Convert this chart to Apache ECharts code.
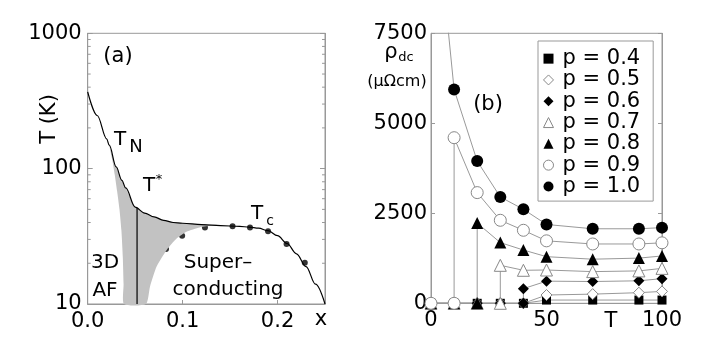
<!DOCTYPE html>
<html>
<head>
<meta charset="utf-8">
<script src="https://cdn.jsdelivr.net/npm/echarts@6/dist/echarts.min.js"></script>
<style>
  html, body { margin: 0; padding: 0; background: #fff; }
  #chart { width: 706px; height: 356px; }
</style>
</head>
<body>
<div id="chart"></div>
<script>
// ---- panel (a): T (log) against doping x ----
var curveX = [0, 0.01, 0.02, 0.0227, 0.03, 0.036, 0.04, 0.05, 0.06, 0.07, 0.08, 0.09, 0.1, 0.12, 0.14, 0.16, 0.17, 0.18, 0.19, 0.2, 0.21, 0.22, 0.23, 0.24, 0.25];
var curveT = [369, 247, 166, 149, 103, 82, 72, 52, 47, 44, 41.5, 40, 39.5, 38.6, 38, 37.4, 37, 36.3, 34.8, 32, 28, 23.5, 18.9, 14, 10];
var tcX = [0.0825, 0.0995, 0.1235, 0.1526, 0.171, 0.19, 0.2095, 0.2287];
var tcT = [25.5, 32, 36.8, 37.6, 36.8, 34.5, 27.7, 20.2];
// shaded region: left edge down, bottom, lower-right edge up, then back along T*
var grayX = [0.0227, 0.026, 0.0285, 0.031, 0.0335, 0.0355, 0.037, 0.0378, 0.0382, 0.0614, 0.0656, 0.0726, 0.0832, 0.0937, 0.104, 0.118, 0.131, 0.138, 0.12, 0.1, 0.09, 0.08, 0.07, 0.06, 0.05, 0.04, 0.036, 0.03, 0.026];
var grayT = [149, 115, 90, 68, 50, 35, 22, 14, 10, 10, 13.4, 18.9, 25.1, 30.5, 34.2, 36.8, 38.1, 38.4, 38.7, 39.5, 40, 41.5, 44, 47, 52, 72, 82, 103, 125];
var tStarX = [0.052, 0.052];
var tStarT = [10, 51.5];
var logMinor = [20, 30, 40, 50, 60, 70, 80, 90, 200, 300, 400, 500, 600, 700, 800, 900];

// ---- panel (b): rho_dc against T ----
var pNames = ['p = 0.4', 'p = 0.5', 'p = 0.6', 'p = 0.7', 'p = 0.8', 'p = 0.9', 'p = 1.0'];
var tP04 = [0, 10, 20, 30, 40, 50, 70, 90, 100];
var rhoP04 = [0, 0, 0, 0, 0, 90, 90, 90, 90];
var tP05 = [0, 10, 20, 30, 40, 50, 70, 90, 100];
var rhoP05 = [0, 0, 0, 0, 0, 230, 255, 295, 330];
var tP06 = [0, 10, 20, 30, 40, 40, 50, 70, 90, 100];
var rhoP06 = [0, 0, 0, 0, 0, 407, 615, 605, 625, 685];
var tP07 = [0, 10, 20, 30, 30, 40, 50, 70, 90, 100];
var rhoP07 = [0, 0, 0, 0, 1055, 917, 925, 880, 900, 970];
var tP08 = [0, 10, 20, 20, 30, 40, 50, 70, 90, 100];
var rhoP08 = [0, 0, 0, 2230, 1686, 1480, 1295, 1225, 1255, 1315];
var tP09 = [0, 10, 10, 20, 30, 40, 50, 70, 90, 100];
var rhoP09 = [0, 0, 4600, 3075, 2306, 2028, 1735, 1648, 1648, 1680];
var tP10 = [0, 10, 20, 30, 40, 50, 70, 90, 100];
var rhoP10 = [12400, 5940, 3950, 2953, 2611, 2190, 2070, 2070, 2102];

var FONT = 'DejaVu Sans';

function pairs(xs, ys) {
  return xs.map(function (x, i) { return [x, ys[i]]; });
}

var filled = { color: '#000', borderColor: '#000', borderWidth: 0 };
var open = { color: '#fff', borderColor: '#888', borderWidth: 1 };

function rhoSeries(name, ts, vals, symbol, size, style) {
  return {
    name: name,
    type: 'line',
    xAxisIndex: 1,
    yAxisIndex: 2,
    data: pairs(ts, vals),
    symbol: symbol,
    symbolSize: size,
    showAllSymbol: true,
    lineStyle: { color: '#999', width: 1 },
    itemStyle: style,
    z: 3
  };
}

function axisText(size) {
  return { fontFamily: FONT, fontSize: size, color: '#000' };
}

function plain(v) { return String(v); }

function label(text, x, y, size, extra) {
  var el = {
    type: 'text',
    x: x,
    y: y,
    style: {
      text: text,
      fontFamily: FONT,
      fontSize: size,
      fill: '#000',
      align: 'center',
      verticalAlign: 'middle'
    },
    z: 100
  };
  if (extra) {
    for (var k in extra) el[k] = extra[k];
  }
  return el;
}

var chart = echarts.init(document.getElementById('chart'));

var option = {
  animation: false,
  backgroundColor: '#fff',
  textStyle: { fontFamily: FONT },
  grid: [
    { left: 87.7, top: 33.3, width: 237.3, height: 270.7, show: true, borderColor: '#999', borderWidth: 1, outerBoundsMode: 'none' },
    { left: 431, top: 33.3, width: 231, height: 270, show: true, borderColor: '#999', borderWidth: 1, outerBoundsMode: 'none' }
  ],
  xAxis: [
    {
      type: 'value', gridIndex: 0, min: 0, max: 0.25, interval: 0.1,
      axisLine: { lineStyle: { color: '#999' } },
      axisTick: { inside: true, length: 4, lineStyle: { color: '#999' } },
      splitLine: { show: false },
      axisLabel: Object.assign(axisText(21), {
        margin: 7, showMaxLabel: false,
        formatter: function (v) { return v.toFixed(1); }
      })
    },
    {
      type: 'value', gridIndex: 1, min: 0, max: 100, interval: 50,
      axisLine: { lineStyle: { color: '#999' } },
      axisTick: { inside: true, length: 4, lineStyle: { color: '#999' } },
      splitLine: { show: false },
      axisLabel: Object.assign(axisText(21), { margin: 7, formatter: plain })
    }
  ],
  yAxis: [
    {
      type: 'log', gridIndex: 0, min: 10, max: 1000, logBase: 10,
      axisLine: { lineStyle: { color: '#999' } },
      axisTick: { inside: true, length: 5, lineStyle: { color: '#999' } },
      splitLine: { show: false },
      axisLabel: Object.assign(axisText(21), { margin: 6, formatter: plain })
    },
    {
      type: 'log', gridIndex: 0, min: 10, max: 1000, logBase: 10, position: 'right',
      axisLine: { lineStyle: { color: '#999' } },
      axisTick: { inside: true, length: 5, lineStyle: { color: '#999' } },
      splitLine: { show: false },
      axisLabel: { show: false }
    },
    {
      type: 'value', gridIndex: 1, min: 0, max: 7500, interval: 2500,
      axisLine: { lineStyle: { color: '#999' } },
      axisTick: { inside: true, length: 4, lineStyle: { color: '#999' } },
      splitLine: { show: false },
      axisLabel: Object.assign(axisText(21), { margin: 4, formatter: plain })
    },
    {
      type: 'value', gridIndex: 1, min: 0, max: 7500, interval: 2500, position: 'right',
      axisLine: { lineStyle: { color: '#999' } },
      axisTick: { inside: true, length: 4, lineStyle: { color: '#999' } },
      splitLine: { show: false },
      axisLabel: { show: false }
    }
  ],
  legend: {
    orient: 'vertical',
    left: 538,
    top: 41,
    padding: [7, 13, 4, 5],
    itemWidth: 10,
    itemHeight: 10,
    itemGap: 0,
    borderColor: '#999',
    borderWidth: 1,
    selectedMode: false,
    textStyle: { fontFamily: FONT, fontSize: 21, color: '#000', lineHeight: 21.3, padding: [0, 0, 0, 4] },
    data: [
      { name: pNames[0], icon: 'rect', itemStyle: filled },
      { name: pNames[1], icon: 'diamond', itemStyle: open },
      { name: pNames[2], icon: 'diamond', itemStyle: filled },
      { name: pNames[3], icon: 'triangle', itemStyle: open },
      { name: pNames[4], icon: 'triangle', itemStyle: filled },
      { name: pNames[5], icon: 'circle', itemStyle: open },
      { name: pNames[6], icon: 'circle', itemStyle: filled }
    ]
  },
  series: [
    // Tc data points sit under the shaded region
    {
      type: 'scatter', xAxisIndex: 0, yAxisIndex: 0,
      data: pairs(tcX, tcT), symbol: 'circle', symbolSize: 6,
      itemStyle: { color: '#000' }, z: 1
    },
    {
      type: 'custom', xAxisIndex: 0, yAxisIndex: 0,
      data: [[grayX[0], grayT[0]]],
      renderItem: function (params, api) {
        var pts = grayX.map(function (x, i) { return api.coord([x, grayT[i]]); });
        return { type: 'polygon', shape: { points: pts, smooth: 0.2 }, style: { fill: '#c2c2c2' } };
      },
      z: 2, silent: true
    },
    {
      type: 'line', xAxisIndex: 0, yAxisIndex: 0,
      data: pairs(curveX, curveT), symbol: 'none',
      smooth: 0.35, smoothMonotone: 'x',
      lineStyle: { color: '#000', width: 1.2 }, z: 3
    },
    {
      type: 'line', xAxisIndex: 0, yAxisIndex: 0,
      data: pairs(tStarX, tStarT), symbol: 'none',
      lineStyle: { color: '#000', width: 1.2 }, z: 3
    },
    // log minor ticks on both sides of panel (a)
    {
      type: 'custom', xAxisIndex: 0, yAxisIndex: 0,
      data: logMinor.map(function (v) { return [0, v]; }),
      renderItem: function (params, api) {
        var v = api.value(1);
        var l = api.coord([0, v]);
        var r = api.coord([0.25, v]);
        var st = { stroke: '#999', lineWidth: 1 };
        return {
          type: 'group',
          children: [
            { type: 'line', shape: { x1: l[0], y1: l[1], x2: l[0] + 3, y2: l[1] }, style: st },
            { type: 'line', shape: { x1: r[0] - 3, y1: r[1], x2: r[0], y2: r[1] }, style: st }
          ]
        };
      },
      z: 4, silent: true
    },
    rhoSeries(pNames[0], tP04, rhoP04, 'rect', 9, filled),
    rhoSeries(pNames[1], tP05, rhoP05, 'diamond', 11, open),
    rhoSeries(pNames[2], tP06, rhoP06, 'diamond', 11, filled),
    rhoSeries(pNames[3], tP07, rhoP07, 'triangle', 12, open),
    rhoSeries(pNames[4], tP08, rhoP08, 'triangle', 12, filled),
    rhoSeries(pNames[5], tP09, rhoP09, 'circle', 12, open),
    rhoSeries(pNames[6], tP10, rhoP10, 'circle', 12, filled)
  ],
  graphic: [
    label('T (K)', 50, 119, 21, { rotation: Math.PI / 2 }),
    label('x', 321, 320, 21),
    label('(a)', 118, 57, 21),
    label('T', 120, 140, 20),
    label('N', 136, 147, 18),
    label('T', 149, 186, 20),
    label('*', 159, 180, 13),
    label('T', 257, 214, 20),
    label('c', 270, 221, 14),
    label('3D', 105, 263, 20),
    label('AF', 105, 291, 20),
    label('Super\u2013', 218, 263, 20),
    label('conducting', 228, 290, 20),
    label('(b)', 488, 105, 21),
    label('\u03c1', 391, 53, 21),
    label('dc', 406, 58, 13),
    label('(\u03bc\u03a9cm)', 397, 82, 16),
    label('T', 611, 322, 21)
  ]
};

chart.setOption(option);
</script>
</body>
</html>
